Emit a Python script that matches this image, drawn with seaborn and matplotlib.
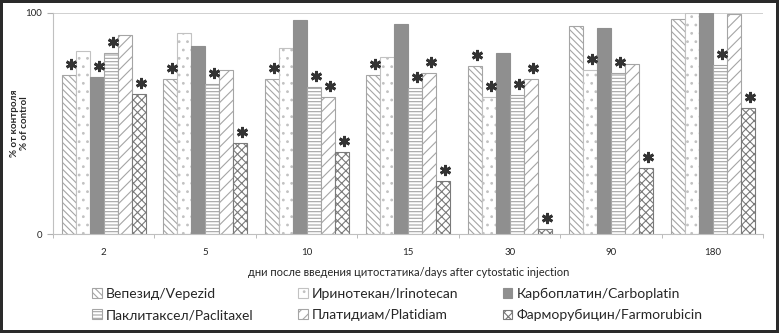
import numpy as np
import pandas as pd
import seaborn as sns
from matplotlib import pyplot as plt

days = ['2', '5', '10', '15', '30', '90', '180']
drugs = ['Вепезид/Vepezid', 'Иринотекан/Irinotecan', 'Карбоплатин/Carboplatin',
         'Паклитаксел/Paclitaxel', 'Платидиам/Platidiam', 'Фарморубицин/Farmorubicin']

vepezid = [72, 70, 70, 72, 76, 94, 97.5]
irinotecan = [83, 91, 84, 80, 62, 74, 100]
carboplatin = [71, 85, 97, 95, 82, 93, 100]
paclitaxel = [82, 68, 66.5, 66, 63, 73, 76.5]
platidiam = [90, 74, 62, 73, 70, 77, 99.5]
farmorubicin = [63.5, 41, 37, 24, 2.5, 30, 57]

# significance marks (1 = star above bar)
star_vepezid = [1, 1, 1, 1, 1, 0, 0]
star_irinotecan = [0, 0, 0, 0, 1, 1, 0]
star_carboplatin = [1, 0, 0, 0, 0, 0, 0]
star_paclitaxel = [1, 1, 1, 1, 1, 1, 1]
star_platidiam = [0, 0, 1, 1, 1, 0, 0]
star_farmorubicin = [1, 1, 1, 1, 1, 1, 1]

values = [vepezid, irinotecan, carboplatin, paclitaxel, platidiam, farmorubicin]
stars = [star_vepezid, star_irinotecan, star_carboplatin, star_paclitaxel,
         star_platidiam, star_farmorubicin]

rows = []
for drug, vals in zip(drugs, values):
    for d, v in zip(days, vals):
        rows.append({'day': d, 'drug': drug, 'value': v})
df = pd.DataFrame(rows)

sns.set_style('white')
plt.rcParams['font.family'] = ['Lato', 'DejaVu Sans']
plt.rcParams['hatch.linewidth'] = 0.8

fig = plt.figure(figsize=(7.79, 3.33), dpi=100)
ax = fig.add_axes([0.068, 0.297, 0.912, 0.664])

face = ['white', 'white', '#8f8f8f', 'white', 'white', 'white']
hatch = ['\\\\\\\\\\', '..', '', '-----', '///', 'xxxx']
edge = ['#a5a5a5', '#c2c2c2', '#8f8f8f', '#a5a5a5', '#a5a5a5', '#7a7a7a']

sns.barplot(data=df, x='day', y='value', hue='drug', hue_order=drugs, order=days,
            width=0.83, ax=ax, legend=False, errorbar=None)

for i, cont in enumerate(ax.containers):
    for j, p in enumerate(cont.patches):
        p.set_facecolor(face[i])
        p.set_edgecolor(edge[i])
        p.set_hatch(hatch[i])
        p.set_linewidth(0.8)
        if stars[i][j]:
            x = p.get_x() + p.get_width() * 0.65
            y = p.get_height() + 5
            ax.plot(x, y, marker=(6, 2, 0), color='#333333', markersize=8,
                    markeredgewidth=2, clip_on=False)

ax.set_ylim(0, 100)
ax.set_xlim(-0.5, len(days) - 0.5)
ax.set_yticks([0, 100])
ax.tick_params(axis='y', labelsize=7, length=4, color='#b0b0b0', left=True, pad=4)
ax.tick_params(axis='x', labelsize=7, length=0, pad=10)
ax.set_xticks(np.arange(-0.5, len(days)), minor=True)
ax.tick_params(axis='x', which='minor', length=3, color='#b0b0b0', bottom=True)
ax.axhline(100, color='#c8c8c8', lw=1.2, zorder=0)

for s in ['top', 'right']:
    ax.spines[s].set_visible(False)
ax.spines['left'].set_color('#c0c0c0')
ax.spines['bottom'].set_color('#c0c0c0')

ax.set_ylabel('% от контроля\n% of control', fontsize=7, fontweight='bold',
              linespacing=1.1)
ax.yaxis.set_label_coords(-0.034, 0.5)
ax.set_xlabel('дни после введения цитостатика/days after cytostatic injection',
              fontsize=8, labelpad=7)

handles = ax.containers
order = [0, 3, 1, 4, 2, 5]
leg = fig.legend([handles[k].patches[0] for k in order], [drugs[k] for k in order],
                 ncol=3, loc='center', bbox_to_anchor=(0.51, 0.085), frameon=False,
                 fontsize=10, handlelength=0.7, handleheight=0.7, handletextpad=0.3,
                 columnspacing=3.2, labelspacing=0.65)

fig.patch.set_edgecolor('#2a2a2a')
fig.patch.set_linewidth(3)

fig.savefig('out.png', dpi=100, edgecolor=fig.get_edgecolor())
